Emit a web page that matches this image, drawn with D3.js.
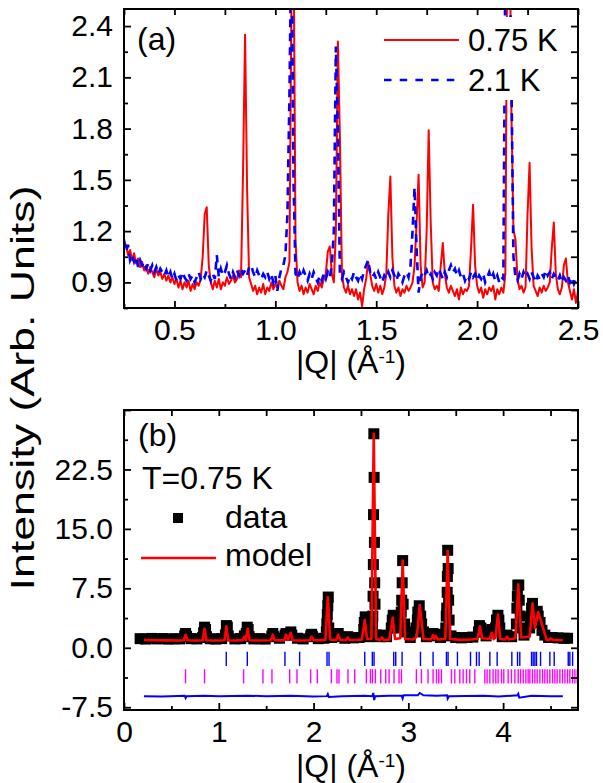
<!DOCTYPE html>
<html>
<head>
<meta charset="utf-8">
<script src="https://cdn.jsdelivr.net/npm/d3@7"></script>
<style>
  body { margin: 0; background: #fff; }
  text { font-family: "Liberation Sans", Arial, sans-serif; fill: #000; }
</style>
</head>
<body>
<div id="chart"></div>
<script>
// ---- panel (a): intensity on a regular |Q| grid, 0.25 .. 2.50 step 0.01
const topQStart = 0.25, topQStep = 0.01;
const red075 = [
  1.10, 1.12, 1.06, 1.09, 1.03, 1.07, 1.01, 1.04, 0.99, 1.02,
  0.97, 1.00, 0.95, 0.99, 0.96, 0.93, 0.98, 0.94, 0.96, 0.92,
  0.95, 0.91, 0.94, 0.90, 0.93, 0.89, 0.92, 0.87, 0.91, 0.86,
  0.90, 0.87, 0.91, 0.85, 0.89, 0.86, 0.90, 0.88, 0.92, 1.05,
  1.30, 1.34, 1.00, 0.90, 0.86, 0.91, 0.87, 0.92, 0.86, 0.90,
  0.88, 0.93, 0.89, 0.91, 0.94, 0.90, 0.92, 0.97, 0.93, 1.55,
  2.35, 1.45, 0.93, 0.89, 0.85, 0.88, 0.83, 0.87, 0.84, 0.89,
  0.83, 0.87, 0.85, 0.90, 0.86, 0.89, 0.87, 0.91, 0.88, 0.86,
  0.93, 0.96, 1.02, 2.60, 3.00, 1.15, 0.90, 0.85, 0.88, 0.83,
  0.87, 0.84, 0.89, 0.86, 0.83, 0.88, 0.85, 0.90, 0.87, 0.92,
  0.95, 1.08, 1.11, 0.95, 0.90, 1.20, 2.31, 1.75, 0.95, 0.87,
  0.84, 0.88, 0.83, 0.86, 0.82, 0.86, 0.80, 0.84, 0.76, 0.86,
  0.92, 1.02, 0.95, 0.88, 0.85, 0.89, 0.84, 0.88, 0.83, 0.87,
  0.95, 1.30, 1.52, 1.05, 0.88, 0.84, 0.87, 0.82, 0.86, 0.84,
  0.88, 0.85, 0.87, 0.90, 1.00, 1.25, 1.53, 1.00, 0.87, 0.90,
  1.20, 1.79, 1.25, 0.90, 0.86, 0.88, 0.85, 1.00, 1.13, 0.95,
  0.87, 0.84, 0.88, 0.85, 0.82, 0.86, 0.80, 0.87, 0.83, 0.86,
  0.85, 0.88, 1.10, 1.355, 1.00, 0.88, 0.84, 0.87, 0.81, 0.86,
  0.83, 0.87, 0.85, 0.88, 0.80, 0.86, 0.83, 0.87, 0.84, 0.95,
  3.00, 3.20, 1.90, 1.21, 1.15, 0.92, 0.86, 0.88, 0.84, 0.87,
  1.30, 1.60, 1.10, 0.88, 0.85, 0.82, 0.87, 0.84, 0.88, 0.85,
  0.87, 0.90, 1.10, 1.25, 0.95, 0.86, 0.83, 0.87, 1.00, 1.04,
  0.90, 0.85, 0.80, 0.86, 0.78, 0.85
];
const blue21 = [
  1.15, 1.08, 1.12, 1.03, 1.06, 1.02, 1.05, 0.99, 1.03, 1.00,
  1.02, 0.98, 1.01, 0.97, 1.00, 0.96, 0.99, 0.95, 0.98, 0.96,
  0.94, 0.97, 0.93, 0.96, 0.92, 0.95, 0.91, 0.94, 0.92, 0.96,
  0.93, 0.91, 0.95, 0.92, 0.94, 0.90, 0.93, 0.96, 0.92, 0.95,
  0.93, 0.97, 0.94, 0.91, 0.95, 0.92, 1.06, 0.93, 0.98, 0.94,
  0.96, 1.00, 0.95, 0.92, 0.96, 0.93, 0.97, 0.94, 0.98, 0.95,
  0.97, 0.94, 0.99, 1.00, 0.96, 0.93, 0.97, 0.94, 0.92, 0.95,
  0.93, 0.96, 0.92, 0.95, 0.90, 0.94, 0.85, 0.93, 0.98, 1.00,
  1.06, 1.30, 2.00, 3.00, 1.50, 0.95, 0.92, 0.96, 0.93, 0.97,
  0.94, 0.91, 0.95, 0.92, 0.96, 0.93, 0.90, 0.94, 0.91, 0.95,
  0.92, 0.96, 0.93, 1.00, 1.20, 2.28, 1.80, 0.95, 0.92, 0.96,
  0.93, 0.90, 0.94, 0.92, 0.96, 0.93, 0.91, 0.95, 0.92, 0.97,
  1.00, 1.03, 0.96, 0.93, 0.95, 0.92, 0.96, 0.93, 0.90, 0.94,
  0.92, 0.96, 0.93, 0.97, 0.94, 0.91, 0.95, 0.93, 0.90, 0.94,
  0.96, 0.93, 1.00, 1.20, 1.455, 1.10, 0.84, 0.93, 0.96, 0.94,
  0.97, 0.93, 0.95, 0.92, 0.96, 0.94, 0.98, 0.95, 0.92, 0.96,
  0.93, 0.97, 1.00, 0.96, 0.98, 0.94, 0.97, 0.93, 0.95, 0.91,
  0.94, 0.92, 0.96, 0.93, 0.95, 0.91, 0.94, 0.92, 0.95, 0.90,
  0.93, 0.96, 0.92, 0.95, 0.91, 0.94, 0.90, 0.93, 0.92, 2.80,
  3.20, 3.00, 2.10, 1.05, 0.93, 0.91, 0.95, 0.92, 0.96, 0.93,
  0.95, 0.92, 0.96, 0.93, 0.90, 0.94, 0.92, 0.95, 0.93, 0.97,
  0.94, 0.96, 0.92, 0.95, 0.93, 0.91, 0.94, 0.90, 0.93, 0.91,
  0.94, 0.90, 0.93, 0.89, 0.92, 0.90
];
const topXTicks = [0.5, 1.0, 1.5, 2.0, 2.5];
const topYTicks = [0.9, 1.2, 1.5, 1.8, 2.1, 2.4];
const topLegend = ["0.75 K", "2.1 K"];

// ---- panel (b): refinement at T = 0.75 K, [|Q|, intensity]
const dataPts = [
  [0.17,1.15],[0.23,1.10],[0.29,1.18],[0.35,1.12],[0.41,1.16],[0.47,1.10],[0.53,1.14],[0.59,1.12],
  [0.64,1.5],[0.65,1.8],[0.66,1.45],
  [0.71,1.15],[0.77,1.12],[0.83,1.3],[0.84,1.9],[0.85,2.6],[0.86,2.3],[0.87,1.4],
  [0.91,1.14],[0.97,1.10],[1.03,1.16],[1.07,1.6],[1.08,2.8],[1.09,2.6],[1.10,1.5],
  [1.17,1.12],[1.23,1.15],[1.27,1.5],[1.29,1.8],[1.30,2.6],[1.31,2.3],[1.32,1.4],
  [1.37,1.12],[1.43,1.15],[1.49,1.10],[1.56,1.5],[1.57,1.8],[1.58,1.4],
  [1.64,1.2],[1.70,1.6],[1.71,1.8],[1.74,1.7],[1.76,2.0],[1.77,1.6],
  [1.83,1.2],[1.89,1.12],[1.97,1.5],[1.98,1.7],[1.99,1.4],
  [2.05,1.15],[2.11,1.2],[2.135,2.0],[2.14,3.0],[2.145,4.2],[2.15,5.3],[2.155,6.4],[2.16,2.5],[2.19,1.3],
  [2.25,1.5],[2.26,1.8],[2.27,1.4],[2.33,1.2],[2.36,1.4],[2.42,1.25],[2.48,1.3],
  [2.53,2.3],[2.535,3.2],[2.545,3.9],[2.55,2.4],[2.59,1.4],
  [2.62,2.0],[2.622,3.0],[2.625,4.0],[2.628,6.5],[2.631,10.5],[2.633,16.8],[2.636,27.0],[2.639,21.5],[2.642,13.3],[2.645,8.2],[2.648,5.5],[2.66,1.6],
  [2.70,1.4],[2.72,1.6],[2.77,1.4],[2.82,2.5],[2.83,3.5],[2.84,4.1],[2.85,3.2],[2.87,2.5],[2.89,3.0],[2.91,3.5],
  [2.925,4.5],[2.93,6.0],[2.935,8.2],[2.94,11.0],[2.945,5.5],[2.96,3.0],[2.97,2.0],
  [3.02,1.3],[3.08,2.5],[3.095,3.5],[3.10,4.5],[3.115,5.3],[3.13,4.0],[3.14,3.0],[3.16,2.0],[3.19,1.4],
  [3.24,1.5],[3.26,1.8],[3.29,1.7],[3.34,1.3],
  [3.395,2.5],[3.40,4.0],[3.405,5.0],[3.41,7.0],[3.412,9.0],[3.415,12.3],[3.42,10.0],[3.425,6.0],[3.43,3.5],[3.45,1.5],
  [3.50,1.3],[3.56,1.25],[3.62,1.3],[3.68,1.35],[3.74,2.0],[3.75,2.8],[3.765,2.5],[3.77,2.0],[3.82,1.5],
  [3.87,2.0],[3.88,2.3],[3.92,2.5],[3.93,3.5],[3.945,4.1],[3.955,3.5],[3.965,2.5],[3.99,1.4],
  [4.04,1.6],[4.09,1.4],[4.14,3.0],[4.145,5.0],[4.15,6.5],[4.155,7.9],[4.165,7.9],[4.17,6.0],[4.18,4.0],[4.19,2.5],[4.22,1.6],
  [4.28,2.5],[4.29,3.8],[4.30,5.0],[4.31,5.6],[4.32,4.5],[4.33,3.5],[4.35,4.0],[4.36,4.6],[4.37,4.0],[4.39,3.2],[4.41,2.2],[4.44,1.6],
  [4.48,1.3],[4.52,1.3],[4.58,1.25],[4.64,1.2],[4.68,1.2]
];
const modelPts = [
  [0.21,1.00],[0.30,0.95],[0.40,0.93],[0.50,0.93],[0.60,0.92],
  [0.63,0.95],[0.65,1.65],[0.67,0.95],
  [0.75,0.92],[0.83,0.95],[0.85,2.40],[0.87,0.95],
  [0.95,0.92],[1.06,0.95],[1.08,2.70],[1.10,0.95],
  [1.18,0.92],[1.25,0.96],[1.27,1.40],[1.285,0.98],[1.305,2.40],[1.325,0.95],
  [1.40,0.92],[1.55,0.95],[1.57,1.65],[1.59,0.95],
  [1.65,0.93],[1.69,0.96],[1.71,1.65],[1.73,1.00],[1.76,1.90],[1.78,0.95],
  [1.88,0.92],[1.96,0.95],[1.98,1.40],[2.00,0.95],
  [2.08,0.95],[2.125,1.00],[2.15,6.40],[2.175,1.05],[2.21,0.98],[2.24,1.00],[2.26,1.65],[2.28,1.00],
  [2.34,0.97],[2.36,1.30],[2.38,0.98],[2.45,0.98],[2.51,1.05],[2.54,3.50],[2.565,1.10],
  [2.61,1.10],[2.635,27.0],[2.66,1.10],[2.70,1.00],[2.72,1.30],[2.74,1.00],[2.80,1.05],[2.835,3.80],[2.86,1.10],
  [2.915,1.20],[2.94,11.0],[2.965,1.10],[3.05,1.05],[3.09,1.40],[3.12,5.40],[3.16,1.10],
  [3.24,1.05],[3.26,1.60],[3.275,1.10],[3.29,1.50],[3.31,1.05],[3.39,1.10],[3.415,12.2],[3.44,1.10],
  [3.55,1.00],[3.65,1.05],[3.73,1.10],[3.755,2.70],[3.78,1.20],[3.86,1.10],[3.88,1.90],[3.90,1.10],[3.92,1.30],[3.945,4.20],[3.97,1.10],
  [4.02,1.05],[4.04,1.40],[4.06,1.05],[4.13,1.20],[4.16,8.00],[4.19,1.30],[4.28,1.40],[4.31,5.60],[4.335,2.50],[4.37,4.50],[4.46,1.00],
  [4.49,1.00],[4.50,1.20],[4.52,1.00],[4.63,0.95]
];
const diffPts = [
  [0.21,-6.10],[0.40,-6.15],[0.64,-6.05],[0.65,-6.35],[0.66,-6.10],[0.85,-6.05],[1.00,-6.12],[1.30,-6.05],
  [1.50,-6.10],[1.76,-6.05],[2.00,-6.15],[2.14,-6.10],[2.15,-5.85],[2.16,-6.20],[2.30,-6.10],[2.54,-6.05],
  [2.62,-6.10],[2.63,-5.70],[2.64,-6.60],[2.65,-6.10],[2.80,-6.05],[2.93,-6.05],[2.94,-6.40],[2.95,-6.00],
  [3.10,-6.00],[3.12,-5.70],[3.16,-6.00],[3.30,-6.05],[3.41,-6.00],[3.415,-6.40],[3.43,-6.10],[3.60,-6.08],
  [3.80,-6.05],[3.95,-6.15],[4.15,-6.00],[4.16,-5.80],[4.17,-6.30],[4.30,-6.05],[4.50,-6.10],[4.63,-6.10]
];
const braggBlue = [1.079,1.301,1.698,1.853,2.142,2.163,2.540,2.620,2.638,2.846,2.867,2.934,3.128,3.261,
  3.402,3.419,3.518,3.656,3.719,3.747,3.860,3.937,4.092,4.152,4.176,4.300,4.317,4.335,4.352,4.395,
  4.493,4.539,4.687,4.704,4.733];
const braggMagenta = [0.649,0.850,1.262,1.466,1.561,1.748,1.825,1.969,2.040,2.188,2.247,2.268,2.363,2.434,
  2.557,2.600,2.621,2.652,2.709,2.761,2.797,2.849,2.902,2.927,3.085,3.138,3.208,3.261,3.297,3.321,3.349,
  3.455,3.490,3.543,3.578,3.613,3.648,3.701,3.807,3.831,3.860,3.894,3.923,3.947,3.983,4.007,4.053,4.088,
  4.124,4.159,4.184,4.212,4.240,4.264,4.282,4.310,4.335,4.359,4.388,4.416,4.440,4.465,4.493,4.522,4.546,
  4.570,4.599,4.627,4.652,4.680,4.704,4.733,4.757,4.782];
const botXTicks = [0, 1, 2, 3, 4];
const botYTicks = [-7.5, 0, 7.5, 15, 22.5];
const botLegend = ["data", "model"];

const W = 603, H = 783;
const svg = d3.select("#chart").append("svg").attr("width", W).attr("height", H);

const xTop = d3.scaleLinear().domain([0.25, 2.5]).range([124, 578]);
const yTop = d3.scaleLinear().domain([0.75, 2.5]).range([308, 9]);
const xBot = d3.scaleLinear().domain([0, 4.79]).range([124, 578]);
const yBot = d3.scaleLinear().domain([-7.85, 30]).range([710, 410]);

function clean(g) {
  g.select(".domain").remove();
  g.attr("font-size", 30).attr("font-family", "Liberation Sans, Arial, sans-serif");
  g.selectAll(".tick line").attr("stroke-width", 1.8);
}

function frame(x, y, xMajor, xMinor, yMajor, yMinor, xFmt, yFmt) {
  const [x0, x1] = x.range(), [y1, y0] = y.range();
  const g = svg.append("g");
  g.append("g").attr("transform", `translate(0,${y1})`)
    .call(d3.axisBottom(x).tickValues(xMajor).tickSize(-7).tickPadding(11).tickFormat(xFmt)).call(clean);
  g.append("g").attr("transform", `translate(0,${y1})`)
    .call(d3.axisBottom(x).tickValues(xMinor).tickSize(-4).tickFormat("")).call(clean);
  g.append("g").attr("transform", `translate(0,${y0})`)
    .call(d3.axisTop(x).tickValues(xMajor.concat(xMinor)).tickSize(-6).tickFormat("")).call(clean);
  g.append("g").attr("transform", `translate(${x0},0)`)
    .call(d3.axisLeft(y).tickValues(yMajor).tickSize(-7).tickPadding(11).tickFormat(yFmt)).call(clean);
  g.append("g").attr("transform", `translate(${x0},0)`)
    .call(d3.axisLeft(y).tickValues(yMinor).tickSize(-4).tickFormat("")).call(clean);
  g.append("g").attr("transform", `translate(${x1},0)`)
    .call(d3.axisRight(y).tickValues(yMajor.concat(yMinor)).tickSize(-7).tickFormat("")).call(clean);
  g.append("rect").attr("x", x0).attr("y", y0).attr("width", x1 - x0).attr("height", y1 - y0)
    .attr("fill", "none").attr("stroke", "#000").attr("stroke-width", 2);
}

function clipFor(id, x, y) {
  const [x0, x1] = x.range(), [y1, y0] = y.range();
  svg.append("clipPath").attr("id", id).append("rect")
    .attr("x", x0).attr("y", y0).attr("width", x1 - x0).attr("height", y1 - y0);
  return svg.append("g").attr("clip-path", `url(#${id})`);
}

function xTitle(yBase) {
  const t = svg.append("text").attr("x", 351).attr("y", yBase).attr("text-anchor", "middle").attr("font-size", 32);
  t.append("tspan").text("|Q| (Å");
  t.append("tspan").attr("font-size", 19).attr("dy", -10).text("-1");
  t.append("tspan").attr("dy", 10).text(")");
}

// ---------- panel (a)
const topQ = red075.map((d, i) => topQStart + i * topQStep);
const pa = clipFor("clipA", xTop, yTop);
const lineTop = d3.line().x((d, i) => xTop(topQ[i])).y(d => yTop(d));
pa.append("path").datum(red075).attr("d", lineTop)
  .attr("fill", "none").attr("stroke", "#ff0000").attr("stroke-width", 2).attr("stroke-linejoin", "round");
pa.append("path").datum(blue21).attr("d", lineTop)
  .attr("fill", "none").attr("stroke", "#0000ff").attr("stroke-width", 2.6).attr("stroke-dasharray", "8,6");

// legend box hides the peaks behind it
svg.append("rect").attr("x", 378).attr("y", 17).attr("width", 197).attr("height", 83).attr("fill", "#fff");
svg.append("line").attr("x1", 384).attr("x2", 459).attr("y1", 40).attr("y2", 40)
  .attr("stroke", "#ff0000").attr("stroke-width", 2);
svg.append("line").attr("x1", 384).attr("x2", 459).attr("y1", 80).attr("y2", 80)
  .attr("stroke", "#0000ff").attr("stroke-width", 2.6).attr("stroke-dasharray", "7.5,8.2");
svg.selectAll(".legA").data(topLegend).join("text").attr("class", "legA")
  .attr("x", 468).attr("y", (d, i) => 51 + i * 40).attr("font-size", 31).text(d => d);
svg.append("text").attr("x", 137).attr("y", 50).attr("font-size", 32).text("(a)");

frame(xTop, yTop, topXTicks, [0.25, 0.75, 1.25, 1.75, 2.25],
  topYTicks, [0.75, 1.05, 1.35, 1.65, 1.95, 2.25],
  d => d.toFixed(1), d => d.toFixed(1));
xTitle(373);

// ---------- panel (b)
const pb = clipFor("clipB", xBot, yBot);
pb.selectAll("rect.pt").data(dataPts).join("rect").attr("class", "pt")
  .attr("x", d => xBot(d[0]) - 5.5).attr("y", d => yBot(d[1]) - 5.5)
  .attr("width", 11).attr("height", 11).attr("fill", "#000");
const lineBot = d3.line().x(d => xBot(d[0])).y(d => yBot(d[1]));
pb.append("path").datum(modelPts).attr("d", lineBot)
  .attr("fill", "none").attr("stroke", "#ff0000").attr("stroke-width", 2.6).attr("stroke-linejoin", "round");
pb.selectAll("line.bb").data(braggBlue).join("line").attr("class", "bb")
  .attr("x1", d => xBot(d)).attr("x2", d => xBot(d))
  .attr("y1", yBot(-0.5)).attr("y2", yBot(-2.3)).attr("stroke", "#0000ff").attr("stroke-width", 1.4);
pb.selectAll("line.bm").data(braggMagenta).join("line").attr("class", "bm")
  .attr("x1", d => xBot(d)).attr("x2", d => xBot(d))
  .attr("y1", yBot(-2.7)).attr("y2", yBot(-4.5)).attr("stroke", "#ff00ff").attr("stroke-width", 1.4);
pb.append("path").datum(diffPts).attr("d", lineBot)
  .attr("fill", "none").attr("stroke", "#0000ff").attr("stroke-width", 2);

svg.append("text").attr("x", 138).attr("y", 446).attr("font-size", 32).text("(b)");
svg.append("text").attr("x", 142).attr("y", 489).attr("font-size", 32).text("T=0.75 K");
svg.append("rect").attr("x", 173).attr("y", 513).attr("width", 10).attr("height", 10).attr("fill", "#000");
svg.append("line").attr("x1", 141).attr("x2", 216).attr("y1", 558).attr("y2", 558)
  .attr("stroke", "#ff0000").attr("stroke-width", 2.6);
svg.selectAll(".legB").data(botLegend).join("text").attr("class", "legB")
  .attr("x", 225).attr("y", (d, i) => 528 + i * 38).attr("font-size", 32).text(d => d);

frame(xBot, yBot, botXTicks, [0.5, 1.5, 2.5, 3.5, 4.5],
  botYTicks.concat([30]), [-3.75, 3.75, 11.25, 18.75, 26.25],
  d => d3.format("d")(d), d => (d === 30 ? "" : d.toFixed(1)));
xTitle(777);

// shared y title
svg.append("text")
  .attr("transform", "translate(34,388) rotate(-90)")
  .attr("text-anchor", "middle").attr("font-size", 33)
  .attr("textLength", 405).attr("lengthAdjust", "spacingAndGlyphs")
  .text("Intensity (Arb. Units)");
</script>
</body>
</html>
